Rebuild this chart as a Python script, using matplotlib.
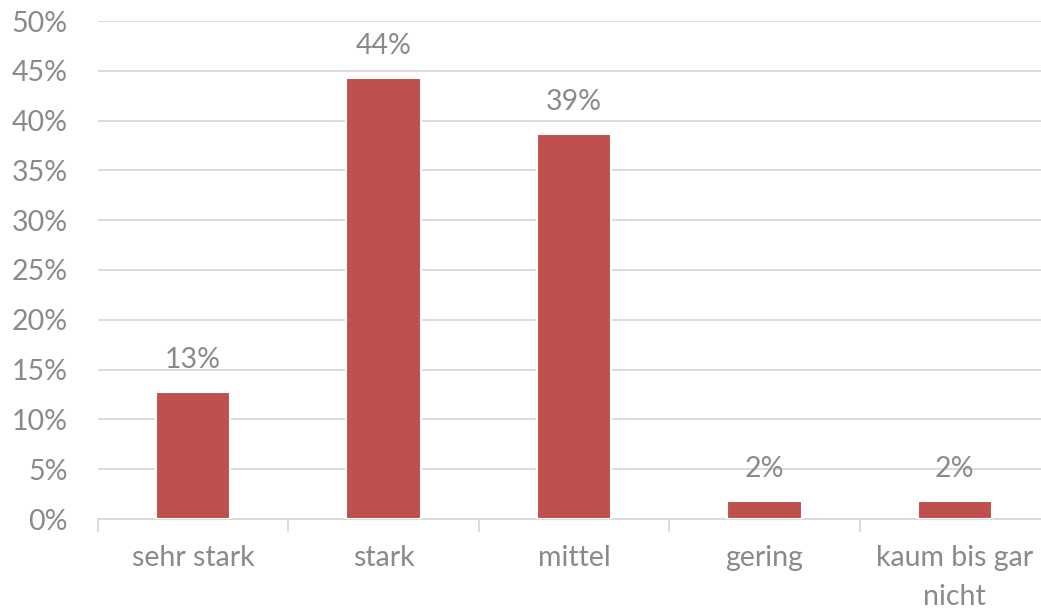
import matplotlib.pyplot as plt
from matplotlib.ticker import FuncFormatter, MultipleLocator

kategorien = ["sehr stark", "stark", "mittel", "gering", "kaum bis gar\nnicht"]
werte = [12.8, 44.3, 38.7, 1.8, 1.8]
beschriftung = ["13%", "44%", "39%", "2%", "2%"]

textfarbe = "#8a8a8a"
groesse = 20.5
plt.rcParams['font.family'] = ['Lato', 'DejaVu Sans']

fig = plt.figure(figsize=(10.41, 6.11), dpi=100)
ax = fig.add_axes([98 / 1041, 92 / 611, 952 / 1041, 498 / 611])

x = range(len(kategorien))
balken = ax.bar(x, werte, width=0.39, color="#c0504d", edgecolor="white",
                linewidth=1.5, zorder=3)

for xi, w, t in zip(x, werte, beschriftung):
    ax.text(xi, w + 1.9, t, ha="center", va="bottom", fontsize=groesse, color=textfarbe)

ax.set_xlim(-0.5, 4.5)
ax.set_ylim(0, 50)
ax.yaxis.set_major_locator(MultipleLocator(5))
ax.yaxis.set_major_formatter(FuncFormatter(lambda v, p: f"{v:.0f}%"))
ax.grid(axis="y", color="#d9d9d9", linewidth=1.3, zorder=0)

ax.set_xticks([i - 0.5 for i in range(6)], minor=False)
ax.set_xticklabels([])
ax.set_xticks(list(x), minor=True)
ax.set_xticklabels(kategorien, minor=True, fontsize=groesse, color=textfarbe, linespacing=1.6)
ax.tick_params(axis="x", which="major", length=9, color="#d9d9d9", width=1.3)
ax.tick_params(axis="x", which="minor", length=0, pad=19)
ax.tick_params(axis="y", length=0, labelsize=groesse, labelcolor=textfarbe, pad=22)

for s in ["top", "right", "left"]:
    ax.spines[s].set_visible(False)
ax.spines["bottom"].set_color("#d9d9d9")
ax.spines["bottom"].set_linewidth(1.3)

fig.savefig("out.png", dpi=100)
